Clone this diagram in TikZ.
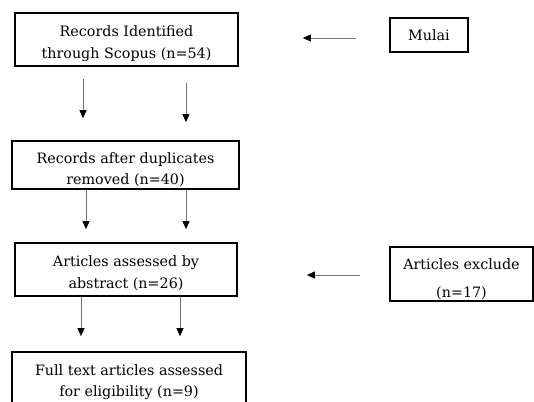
\documentclass[tikz,border=0pt]{standalone}
\usepackage{fontspec}
\setmainfont{DejaVu Serif}
\usetikzlibrary{arrows.meta}
\newcommand\mylow[1]{\rule{0pt}{#1}}
\begin{document}
\begin{tikzpicture}[x=1pt,y=-1pt,
  box/.style={draw=black,line width=1.7pt,inner sep=0pt,align=center,
    font=\fontsize{14.3}{21.5}\selectfont},
  arr/.style={draw=black!55,line width=0.9pt,-{Triangle[length=8pt,width=7pt,color=black]}}]
\clip (0,0) rectangle (534,401);
\fill[white] (0,0) rectangle (534,401);
\node[box,minimum width=223pt,minimum height=53pt] (b1) at (126.5,39.5) {\mylow{19pt}Records Identified\\through Scopus (n=54)};
\node[box,minimum width=227pt,minimum height=48pt] (b2) at (125.5,165) {\mylow{20pt}Records after duplicates\\removed (n=40)};
\node[box,minimum width=222pt,minimum height=53pt] (b3) at (126,269.5) {\mylow{18pt}Articles assessed by\\abstract (n=26)};
\node[box,minimum width=234pt,minimum height=60pt] (b4) at (129,382) {Full text articles assessed\\for eligibility (n=9)};
\node[box,minimum width=78pt,minimum height=34pt] (m) at (429,35) {Mulai};
\node[box,minimum width=143pt,minimum height=54pt] (ex) at (461.5,274) {\mylow{21pt}Articles exclude\\[6.5pt](n=17)};
% vertical arrows
\draw[arr,shorten <=12pt,shorten >=22pt] (b1.south -| 83,0) -- (b2.north -| 83,0);
\draw[arr,shorten <=16pt,shorten >=18pt] (b1.south -| 186,0) -- (b2.north -| 186,0);
\draw[arr,shorten <=0pt,shorten >=13pt] (b2.south -| 86,0) -- (b3.north -| 86,0);
\draw[arr,shorten <=0pt,shorten >=13pt] (b2.south -| 186,0) -- (b3.north -| 186,0);
\draw[arr,shorten <=0pt,shorten >=15pt] (b3.south -| 81,0) -- (b4.north -| 81,0);
\draw[arr,shorten <=0pt,shorten >=15pt] (b3.south -| 180,0) -- (b4.north -| 180,0);
% horizontal arrows
\draw[arr,shorten <=33pt,shorten >=64pt] (m.west |- 0,38) -- (b1.east |- 0,38);
\draw[arr,shorten <=29pt,shorten >=69pt] (ex.west |- 0,275) -- (b3.east |- 0,275);
\end{tikzpicture}
\end{document}
